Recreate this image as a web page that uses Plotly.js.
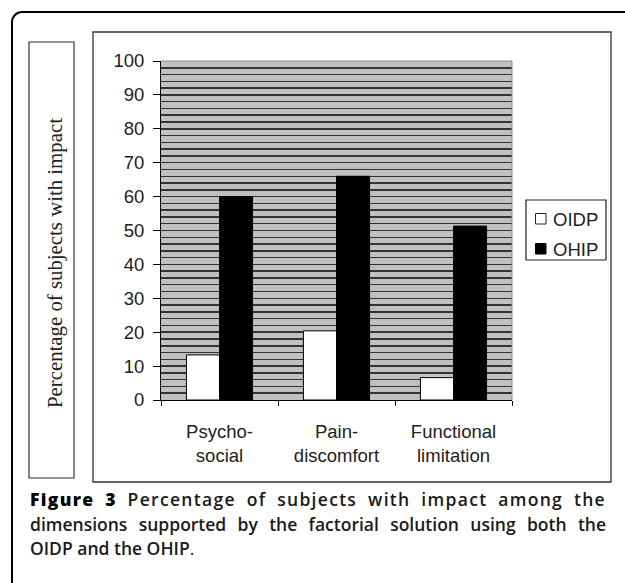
<!DOCTYPE html>
<html>
<head>
<meta charset="utf-8">
<script src="https://cdn.plot.ly/plotly-3.0.1.min.js"></script>
<style>
  html, body { margin: 0; padding: 0; background: #fff; }
  #wrap { position: relative; width: 625px; height: 583px; overflow: hidden; background: #fff; }
  #frame { position: absolute; left: 11px; top: 11px; width: 700px; height: 700px;
           border: 2.5px solid #000; border-radius: 11px; box-sizing: border-box; }
  #chart { position: absolute; left: 0; top: 0; width: 625px; height: 583px; }
  #caption { position: absolute; left: 30px; top: 487px; width: 576px;
             font-family: "Open Sans", "DejaVu Sans", sans-serif; font-size: 17.5px;
             line-height: 24.5px; color: #1a1a1a; font-weight: 600; }
  #caption .l { white-space: nowrap; text-align: justify; text-align-last: justify; }
  #caption .l1 { letter-spacing: 1.3px; }
  #caption .last { white-space: nowrap; text-align: left; }
  #caption b { font-weight: 800; color: #000; }
  #caption .np { font-weight: 400; }
</style>
</head>
<body>
<div id="wrap">
  <div id="frame"></div>
  <div id="chart"></div>
  <div id="caption">
    <div class="l l1"><b>Figure 3</b> Percentage of subjects with impact among the</div>
    <div class="l">dimensions supported by the factorial solution using both the</div>
    <div class="last">OIDP and the OHIP<span class="np">.</span></div>
  </div>
</div>
<script>
// ---- data ----
const categories = ['Psycho-<br>social', 'Pain-<br>discomfort', 'Functional<br>limitation'];
const seriesNames = ['OIDP', 'OHIP'];
const oidpValues = [13.3, 20.4, 6.6];
const ohipValues = [60, 66, 51.3];
const yTickValues = [0, 10, 20, 30, 40, 50, 60, 70, 80, 90, 100];
const yTitle = 'Percentage of subjects with impact';

// ---- geometry helpers (pixel -> paper) ----
const W = 625, H = 583;
const PL = 161, PR = 512, PT = 61, PB = 400;
const px = v => (v - PL) / (PR - PL);
const py = v => (PB - v) / (PB - PT);

const traces = [
  { type: 'bar', name: seriesNames[0], x: categories, y: oidpValues,
    marker: { color: '#ffffff', line: { color: '#000', width: 1 } }, showlegend: false, hoverinfo: 'skip' },
  { type: 'bar', name: seriesNames[1], x: categories, y: ohipValues,
    marker: { color: '#000000', line: { color: '#000', width: 1 } }, showlegend: false, hoverinfo: 'skip' }
];

const rect = (x0, y0, x1, y1, color, width, fill) => ({
  type: 'rect', xref: 'paper', yref: 'paper',
  x0: px(x0), x1: px(x1), y0: py(y0), y1: py(y1),
  line: { color: color, width: width }, fillcolor: fill || 'rgba(0,0,0,0)', layer: 'above'
});

const shapes = [
  rect(93, 32, 611, 482, '#333', 1.3),          // chart box
  rect(29, 42, 74, 478, '#333', 1.2),           // y-title box
  rect(526, 200, 606, 260, '#222', 1.2, '#fff'), // legend box
  rect(535.5, 213.5, 546, 224, '#222', 1, '#fff'),
  rect(535.5, 243.5, 546, 254, '#000', 1, '#000'),
  { type: 'line', xref: 'paper', yref: 'paper', x0: 0, x1: 1, y0: 1, y1: 1,
    line: { color: '#8a8a8a', width: 1 }, layer: 'above' },
  { type: 'line', xref: 'paper', yref: 'paper', x0: 1, x1: 1, y0: 0, y1: 1,
    line: { color: '#8a8a8a', width: 1 }, layer: 'above' }
];

const annotations = [
  { xref: 'paper', yref: 'paper', x: px(55), y: py(263), text: yTitle, textangle: -90,
    showarrow: false, xanchor: 'center', yanchor: 'middle',
    font: { family: '"Liberation Serif", "Times New Roman", serif', size: 20.8, color: '#222' } },
  { xref: 'paper', yref: 'paper', x: px(551), y: py(219), text: seriesNames[0],
    showarrow: false, xanchor: 'left', yanchor: 'middle',
    font: { family: '"Liberation Sans", Arial, sans-serif', size: 18.5, color: '#222' } },
  { xref: 'paper', yref: 'paper', x: px(551), y: py(249), text: seriesNames[1],
    showarrow: false, xanchor: 'left', yanchor: 'middle',
    font: { family: '"Liberation Sans", Arial, sans-serif', size: 18.5, color: '#222' } }
];

const layout = {
  width: W, height: H,
  margin: { l: PL, r: W - PR, t: PT, b: H - PB, pad: 0 },
  paper_bgcolor: 'rgba(0,0,0,0)',
  plot_bgcolor: '#c0c0c0',
  barmode: 'group', bargap: 0.435, bargroupgap: 0,
  showlegend: false,
  font: { family: '"Liberation Sans", Arial, sans-serif', size: 18.5, color: '#222' },
  xaxis: {
    type: 'category', tickson: 'boundaries', ticks: 'outside', ticklen: 5, tickcolor: '#000',
    showline: true, linecolor: '#000', linewidth: 1, showgrid: false, zeroline: false,
    ticklabelstandoff: 15, automargin: false, fixedrange: true
  },
  yaxis: {
    range: [0, 100], tickvals: yTickValues, ticks: 'outside', ticklen: 7, tickcolor: '#000',
    showline: true, linecolor: '#000', linewidth: 1, zeroline: false,
    showgrid: true, gridcolor: '#333', gridwidth: 1.5,
    minor: { dtick: 2, showgrid: true, gridcolor: '#333', gridwidth: 1.5, ticks: '' },
    ticklabelstandoff: 5, automargin: false, fixedrange: true
  },
  shapes: shapes,
  annotations: annotations
};

Plotly.newPlot('chart', traces, layout, { staticPlot: true, displayModeBar: false });
</script>
</body>
</html>
